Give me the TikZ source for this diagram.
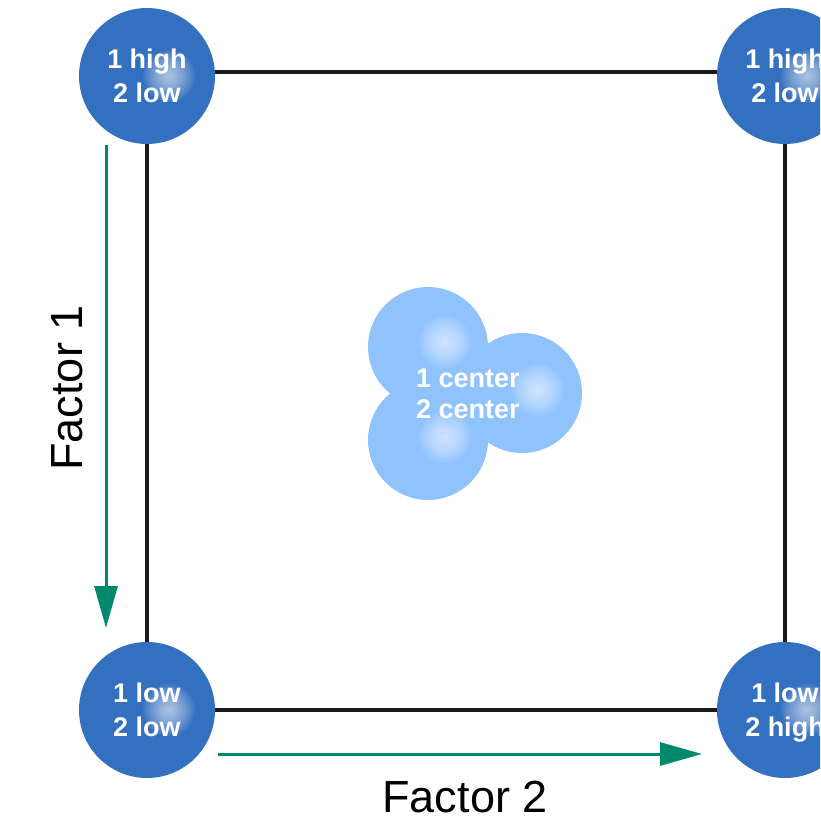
\documentclass[tikz,border=0pt]{standalone}
\usepackage{fontspec}
\setmainfont{Liberation Sans}
\usetikzlibrary{arrows.meta}
\definecolor{cblue}{HTML}{3470C0}
\definecolor{lblue}{HTML}{90C3FE}
\definecolor{cgreen}{HTML}{00896C}
\definecolor{cline}{HTML}{1A1A1A}
\newcommand{\glowat}[1]{%
  \foreach \r in {26,24,...,2} {\fill[white, opacity=0.065] #1 circle (\r pt);}}
\tikzset{
  corner/.style={circle, minimum size=136pt, inner sep=0pt, fill=cblue},
  ctr/.style={circle, minimum size=120pt, inner sep=0pt, fill=lblue},
  lbl/.style={text=white, font=\bfseries\fontsize{27}{34}\selectfont, align=center},
  clbl/.style={text=white, font=\bfseries\fontsize{27}{31}\selectfont, align=center},
  axis/.style={draw=cgreen, line width=3pt, -{Triangle[width=23pt,length=42pt]}},
  axlbl/.style={font=\fontsize{45}{50}\selectfont, text=black},
  frame/.style={draw=cline, line width=4pt}
}
\begin{document}
\begin{tikzpicture}[x=1pt,y=-1pt]
\useasboundingbox (0,0) rectangle (820,822);
\clip (0,0) rectangle (820,822);
% square frame
\coordinate (sqtl) at (147,72);
\coordinate (sqbr) at (785,710);
\draw[frame] (sqtl) rectangle (sqbr);
% corner circles
\node[corner] (tl) at (147,76) {};
\node[corner] (tr) at (785,76) {};
\node[corner] (bl) at (147,710) {};
\node[corner] (br) at (785,710) {};
\glowat{([xshift=22pt]tl.center)}
\glowat{([xshift=22pt]tr.center)}
\glowat{([xshift=22pt]bl.center)}
\glowat{([xshift=22pt]br.center)}
\node[lbl] (tlt) at (tl) {1 high\\2 low};
\node[lbl] (trt) at (tr) {1 high\\2 low};
\node[lbl] (blt) at (bl) {1 low\\2 low};
\node[lbl] (brt) at ([yshift=-3pt]br.center) {1 low\\2 high};
% center cluster
\node[ctr] (c1) at (428,347) {};
\node[ctr] (c2) at (522,393) {};
\node[ctr] (c3) at (428,440) {};
\glowat{(445,342)}
\glowat{(538,390)}
\glowat{(445,437)}
\node[clbl] (ct) at (468,394) {1 center\\2 center};
% axes
\coordinate (a1s) at (106,145);
\coordinate (a1e) at (106,628);
\coordinate (a2s) at (218,754);
\coordinate (a2e) at (702,754);
\draw[axis] (a1s) -- (a1e);
\draw[axis] (a2s) -- (a2e);
\node[axlbl, rotate=90] (f1) at (67,388) {Factor 1};
\node[axlbl] (f2) at (465,797) {Factor 2};
\end{tikzpicture}
\end{document}
